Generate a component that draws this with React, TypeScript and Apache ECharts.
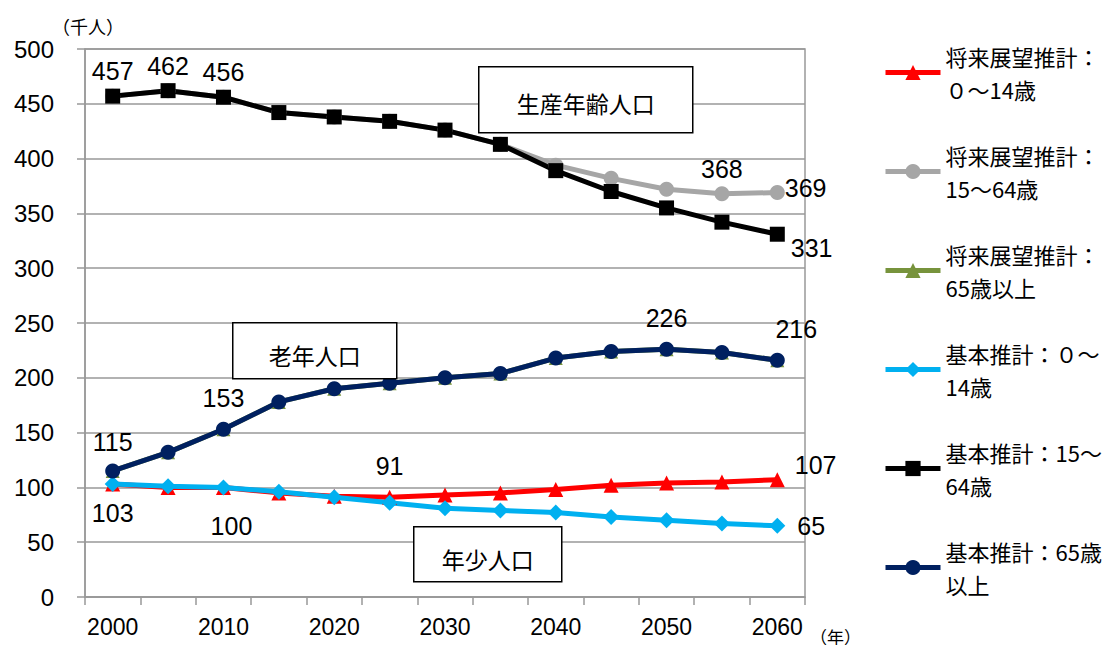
import React, { useEffect, useRef } from "react";
import * as echarts from "echarts";

const years = ["2000", "2005", "2010", "2015", "2020", "2025", "2030", "2035", "2040", "2045", "2050", "2055", "2060"];
const yTicks = { min: 0, max: 500, interval: 50 };

const seriesNames = [
  "将来展望推計：\n０～14歳",
  "将来展望推計：\n15～64歳",
  "将来展望推計：\n65歳以上",
  "基本推計：０～\n14歳",
  "基本推計：15～\n64歳",
  "基本推計：65歳\n以上",
];

const shoraiYoung = [103, 100, 100, 95, 92, 91, 93, 95, 98, 102, 104, 105, 107];
const shoraiWork = [457, 462, 456, 442, 438, 434, 426, 413, 394, 382, 372, 368, 369];
const shoraiOld = [115, 132, 153, 178, 190, 195, 200, 204, 218, 224, 226, 223, 216];
const kihonYoung = [103, 101, 100, 96, 91, 86, 81, 79, 77, 73, 70, 67, 65];
const kihonWork = [457, 462, 456, 442, 438, 434, 426, 413, 389, 370, 355, 342, 331];
const kihonOld = [115, 132, 153, 178, 190, 195, 200, 204, 218, 224, 226, 223, 216];

const annotations = ["生産年齢人口", "老年人口", "年少人口"];
const yUnit = "（千人）";
const xUnit = "（年）";

type LabelSpec = { [idx: number]: { position: string; distance?: number; offset?: number[] } };

const labelSpecs: LabelSpec[] = [
  {
    0: { position: "bottom", distance: 9 },
    2: { position: "bottom", distance: 19, offset: [8, 0] },
    5: { position: "top", distance: 11 },
    12: { position: "right", distance: 10, offset: [0, -15] },
  },
  {
    11: { position: "top", distance: 5 },
    12: { position: "right", distance: 0, offset: [0, -5] },
  },
  {},
  {
    12: { position: "right", distance: 12 },
  },
  {
    0: { position: "top", distance: 5 },
    1: { position: "top", distance: 5 },
    2: { position: "top", distance: 5 },
    12: { position: "right", distance: 6, offset: [0, 14] },
  },
  {
    0: { position: "top", distance: 9 },
    2: { position: "top", distance: 11 },
    10: { position: "top", distance: 11 },
    12: { position: "top", distance: 11, offset: [19, 0] },
  },
];

const seriesValues = [shoraiYoung, shoraiWork, shoraiOld, kihonYoung, kihonWork, kihonOld];
const seriesColors = ["#FF0000", "#A6A6A6", "#77933C", "#00B0F0", "#000000", "#002060"];
const seriesSymbols = ["triangle", "circle", "triangle", "diamond", "rect", "circle"];
const seriesSymbolSizes = [15, 15, 14, 16, 15, 15];

const labelFont = "'Liberation Sans', Arial, sans-serif";
const cjkFont = "'Noto Sans CJK JP', sans-serif";

export default function App() {
  const ref = useRef<HTMLDivElement>(null);
  useEffect(() => {
    if (!ref.current) return;
    const chart = echarts.init(ref.current, undefined, { renderer: "svg" });
    const series = seriesValues.map((vals, si) => ({
      name: seriesNames[si],
      type: "line",
      symbol: seriesSymbols[si],
      symbolSize: seriesSymbolSizes[si],
      showAllSymbol: true,
      color: seriesColors[si],
      lineStyle: { width: 5, color: seriesColors[si] },
      itemStyle: { color: seriesColors[si] },
      label: {
        show: false,
        color: "#000",
        fontSize: 25,
        fontFamily: labelFont,
      },
      data: vals.map((v, i) => {
        const spec = labelSpecs[si][i];
        if (!spec) return v;
        return {
          value: v,
          label: {
            show: true,
            position: spec.position,
            distance: spec.distance ?? 5,
            offset: spec.offset ?? [0, 0],
          },
        };
      }),
    }));
    const boxStyle = { fill: "#fff", stroke: "#000", lineWidth: 1.5 };
    const boxText = { fontSize: 23, fontFamily: cjkFont, fill: "#000" };
    chart.setOption({
      animation: false,
      backgroundColor: "#fff",
      grid: {
        left: 85,
        right: 308,
        top: 49,
        bottom: 56,
        show: true,
        borderColor: "#999",
        borderWidth: 1.5,
        backgroundColor: "transparent",
      },
      legend: {
        orient: "vertical",
        left: 883,
        top: 23,
        padding: 0,
        itemGap: 0,
        itemWidth: 55,
        itemHeight: 19,
        selectedMode: false,
        data: seriesNames,
        lineStyle: { width: 5 },
        textStyle: {
          fontSize: 22,
          fontFamily: cjkFont,
          color: "#000",
          lineHeight: 33,
          padding: [33, 0, 0, 0],
        },
      },
      xAxis: {
        type: "category",
        data: years,
        boundaryGap: true,
        axisLine: { lineStyle: { color: "#999", width: 1.5 } },
        axisTick: { show: true, interval: 0, length: 8, lineStyle: { color: "#999", width: 1.5 } },
        axisLabel: {
          interval: 1,
          color: "#000",
          fontSize: 23,
          fontFamily: labelFont,
          margin: 18,
        },
      },
      yAxis: {
        type: "value",
        min: yTicks.min,
        max: yTicks.max,
        interval: yTicks.interval,
        axisLine: { show: true, lineStyle: { color: "#999", width: 1.5 } },
        axisTick: { show: true, length: 8, lineStyle: { color: "#999", width: 1.5 } },
        splitLine: { lineStyle: { color: "#999", width: 1.5 } },
        axisLabel: {
          color: "#000",
          fontSize: 24,
          fontFamily: labelFont,
          margin: 31,
        },
      },
      graphic: [
        {
          type: "group",
          left: 478,
          top: 66,
          children: [
            { type: "rect", shape: { x: 0, y: 0, width: 214, height: 66 }, style: boxStyle, z: 10 },
            { type: "text", x: 107, y: 36, style: { ...boxText, text: annotations[0], align: "center", verticalAlign: "middle" }, z: 11 },
          ],
          z: 10,
        },
        {
          type: "group",
          left: 232,
          top: 322,
          children: [
            { type: "rect", shape: { x: 0, y: 0, width: 164, height: 56 }, style: boxStyle, z: 10 },
            { type: "text", x: 82, y: 32, style: { ...boxText, text: annotations[1], align: "center", verticalAlign: "middle" }, z: 11 },
          ],
          z: 10,
        },
        {
          type: "group",
          left: 413,
          top: 526,
          children: [
            { type: "rect", shape: { x: 0, y: 0, width: 148, height: 55 }, style: boxStyle, z: 10 },
            { type: "text", x: 74, y: 32, style: { ...boxText, text: annotations[2], align: "center", verticalAlign: "middle" }, z: 11 },
          ],
          z: 10,
        },
        {
          type: "text",
          left: 52,
          top: 17,
          style: { text: yUnit, fontSize: 18, fontFamily: cjkFont, fill: "#000" },
        },
        {
          type: "text",
          left: 810,
          top: 628,
          style: { text: xUnit, fontSize: 17, fontFamily: cjkFont, fill: "#000" },
        },
      ],
      series,
    });
    return () => chart.dispose();
  }, []);
  return <div ref={ref} style={{ width: 1113, height: 653, margin: -8 }} />;
}
